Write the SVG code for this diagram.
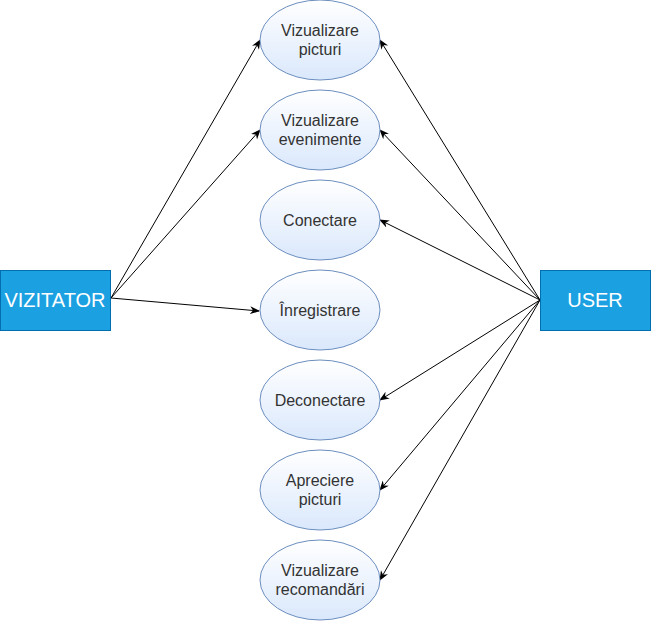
<svg xmlns="http://www.w3.org/2000/svg" width="651" height="621" viewBox="0 0 651 621">
<defs>
<linearGradient id="g" x1="0" y1="0" x2="0" y2="1">
<stop offset="0" stop-color="#ffffff"/>
<stop offset="1" stop-color="#dae8fc"/>
</linearGradient>
<marker id="a" viewBox="0 0 10 10" refX="9" refY="5" markerWidth="10" markerHeight="10" markerUnits="userSpaceOnUse" orient="auto">
<path d="M0,1 L10,5 L0,9 L3,5 Z" fill="#000"/>
</marker>
<style>
.e{fill:url(#g);stroke:#6c8ebf;stroke-width:1}
.r{fill:#1ba1e2;stroke:#006eaf;stroke-width:1}
.t{font-family:"Liberation Sans",Arial,sans-serif;font-size:16px;fill:#333;text-anchor:middle}
.w{font-family:"Liberation Sans",Arial,sans-serif;font-size:20px;fill:#fff;text-anchor:middle}
.c line{stroke:#000;stroke-width:1;marker-end:url(#a)}
</style>
</defs>
<rect width="651" height="621" fill="#fff"/>
<g class="c" id="connectors">
<line x1="111" y1="298" x2="260" y2="40"/>
<line x1="111" y1="298" x2="260" y2="130"/>
<line x1="111" y1="298" x2="259" y2="311"/>
<line x1="540" y1="300" x2="380" y2="40"/>
<line x1="540" y1="300" x2="380" y2="130"/>
<line x1="540" y1="300" x2="380" y2="220"/>
<line x1="540" y1="300" x2="380" y2="400"/>
<line x1="540" y1="300" x2="380" y2="490"/>
<line x1="540" y1="300" x2="380" y2="580"/>
</g>
<g id="vizitator"><rect class="r" x="0.5" y="270.5" width="110" height="60"/><text class="w" x="55" y="307">VIZITATOR</text></g>
<g id="user"><rect class="r" x="540.5" y="270.5" width="110" height="60"/><text class="w" x="595" y="307">USER</text></g>
<g id="n1"><ellipse class="e" cx="320" cy="40" rx="60" ry="40"/><text class="t" x="320" y="36">Vizualizare</text><text class="t" x="320" y="55">picturi</text></g>
<g id="n2"><ellipse class="e" cx="320" cy="130" rx="60" ry="40"/><text class="t" x="320" y="126">Vizualizare</text><text class="t" x="320" y="145">evenimente</text></g>
<g id="n3"><ellipse class="e" cx="320" cy="220" rx="60" ry="40"/><text class="t" x="320" y="226">Conectare</text></g>
<g id="n4"><ellipse class="e" cx="320" cy="310" rx="60" ry="40"/><text class="t" x="320" y="316">Înregistrare</text></g>
<g id="n5"><ellipse class="e" cx="320" cy="400" rx="60" ry="40"/><text class="t" x="320" y="406">Deconectare</text></g>
<g id="n6"><ellipse class="e" cx="320" cy="490" rx="60" ry="40"/><text class="t" x="320" y="486">Apreciere</text><text class="t" x="320" y="505">picturi</text></g>
<g id="n7"><ellipse class="e" cx="320" cy="580" rx="60" ry="40"/><text class="t" x="320" y="576">Vizualizare</text><text class="t" x="320" y="595">recomandări</text></g>
</svg>
